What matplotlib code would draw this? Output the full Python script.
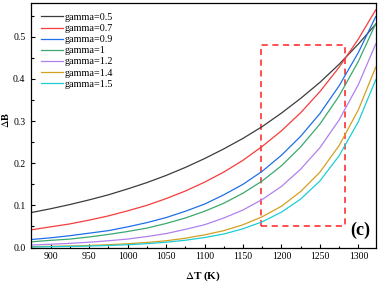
import matplotlib
matplotlib.use('Agg')
import matplotlib.pyplot as plt
from matplotlib.patches import Rectangle
from matplotlib.ticker import MultipleLocator

# temperature grid (K) and Delta B
dT = [875, 900, 925, 950, 975, 1000, 1025, 1050, 1075, 1100, 1125,
      1150, 1175, 1200, 1225, 1250, 1275, 1300, 1322.5]

g05 = [0.083, 0.092, 0.102, 0.113, 0.125, 0.139, 0.154, 0.171, 0.190, 0.211,
       0.234, 0.259, 0.287, 0.319, 0.354, 0.392, 0.435, 0.483, 0.530]
g07 = [0.042, 0.049, 0.056, 0.065, 0.075, 0.087, 0.100, 0.116, 0.134, 0.155,
       0.179, 0.207, 0.240, 0.277, 0.320, 0.370, 0.428, 0.495, 0.564]
g09 = [0.019, 0.023, 0.028, 0.034, 0.040, 0.049, 0.059, 0.071, 0.086, 0.103,
       0.125, 0.150, 0.181, 0.219, 0.264, 0.318, 0.384, 0.463, 0.548]
g10 = [0.0135, 0.017, 0.020, 0.025, 0.031, 0.038, 0.046, 0.057, 0.070, 0.086,
       0.105, 0.129, 0.158, 0.194, 0.239, 0.293, 0.360, 0.442, 0.531]
g12 = [0.0060, 0.0077, 0.0098, 0.0126, 0.016, 0.020, 0.026, 0.033, 0.043, 0.054,
       0.070, 0.089, 0.114, 0.145, 0.186, 0.237, 0.303, 0.387, 0.483]
g14 = [0.0020, 0.0027, 0.0036, 0.0049, 0.0066, 0.0089, 0.012, 0.016, 0.022, 0.030,
       0.040, 0.054, 0.073, 0.098, 0.133, 0.179, 0.242, 0.327, 0.428]
g15 = [0.0014, 0.0019, 0.0026, 0.0035, 0.0048, 0.0066, 0.0091, 0.0125, 0.0172, 0.0236,
       0.032, 0.0445, 0.061, 0.084, 0.115, 0.158, 0.218, 0.299, 0.398]

series = [g05, g07, g09, g10, g12, g14, g15]
labels = ['gamma=0.5', 'gamma=0.7', 'gamma=0.9', 'gamma=1',
          'gamma=1.2', 'gamma=1.4', 'gamma=1.5']
colors = ['#3c3c3c', '#f53c3c', '#1f6fe8', '#3aa870',
          '#b080ee', '#d4a020', '#1ccdd4']

plt.rcParams['font.family'] = 'serif'
plt.rcParams['font.serif'] = ['Liberation Serif', 'DejaVu Serif']
plt.rcParams['mathtext.fontset'] = 'stix'

fig = plt.figure(figsize=(3.78, 2.83), dpi=100)
ax = fig.add_axes([0.082, 0.1254, 0.912, 0.8636])

for y, lab, c in zip(series, labels, colors):
    ax.plot(dT, y, color=c, lw=0.9, label=lab)

# dashed zoom box
ax.add_patch(Rectangle((1173, 0.05), 1282 - 1173, 0.48 - 0.05, fill=False,
                       ec='#ff2020', lw=1.1, ls=(0, (4, 3))))

ax.text(1303, 0.040, '(c)', fontsize=13, fontweight='bold', ha='center', va='center')

ax.set_xlim(874.5, 1322.5)
ax.set_ylim(0, 0.58)
ax.xaxis.set_major_locator(MultipleLocator(50))
ax.xaxis.set_minor_locator(MultipleLocator(25))
ax.yaxis.set_major_locator(MultipleLocator(0.1))
ax.yaxis.set_minor_locator(MultipleLocator(0.05))
ax.tick_params(which='both', direction='in', labelsize=7, width=0.8)
ax.tick_params(which='major', length=3)
ax.tick_params(which='minor', length=1.8)
ax.tick_params(axis='y', pad=4)
ax.tick_params(axis='x', pad=3.5)
for s in ax.spines.values():
    s.set_linewidth(0.9)

ax.set_xlabel(r'$\Delta$T (K)', fontsize=8, fontweight='bold')
ax.set_ylabel(r'$\Delta$B', fontsize=7.5, fontweight='bold')
ax.xaxis.set_label_coords(0.5, -0.09)
ax.yaxis.set_label_coords(-0.058, 0.52)

ax.legend(loc='upper left', bbox_to_anchor=(0.01, 0.985), frameon=False, fontsize=7.3,
          handlelength=2.2, handletextpad=0.2, labelspacing=0.2, borderaxespad=0.2)

fig.savefig('out.png', dpi=100)
